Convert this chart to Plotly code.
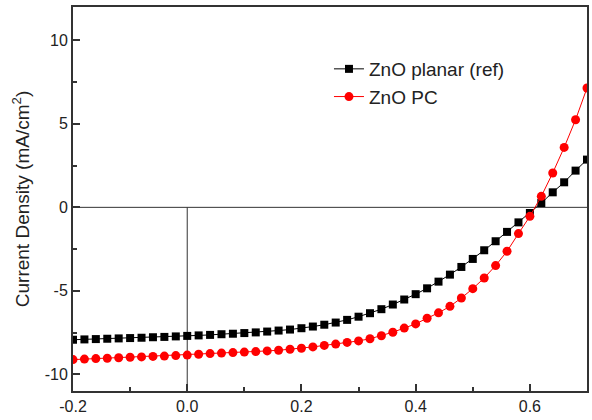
import plotly.graph_objects as go

voltage = [round(-0.2 + 0.02 * i, 2) for i in range(46)]

planar_ref = [-7.93, -7.91, -7.89, -7.87, -7.85, -7.83, -7.81, -7.78, -7.76, -7.73,
              -7.70, -7.67, -7.64, -7.60, -7.57, -7.53, -7.49, -7.44, -7.38, -7.32,
              -7.24, -7.14, -7.03, -6.90, -6.74, -6.55, -6.34, -6.10, -5.82, -5.52,
              -5.20, -4.85, -4.45, -4.03, -3.57, -3.09, -2.57, -2.03, -1.47, -0.90,
              -0.34, 0.26, 0.90, 1.50, 2.20, 2.86]

zno_pc = [-9.12, -9.09, -9.06, -9.04, -9.01, -8.98, -8.96, -8.93, -8.91, -8.88,
          -8.85, -8.80, -8.76, -8.73, -8.70, -8.67, -8.64, -8.60, -8.56, -8.50,
          -8.44, -8.36, -8.27, -8.19, -8.09, -8.00, -7.87, -7.69, -7.48, -7.23,
          -6.98, -6.64, -6.32, -5.93, -5.43, -4.87, -4.23, -3.49, -2.63, -1.57,
          -0.54, 0.66, 2.06, 3.59, 5.25, 7.15]

x_tickvals = [-0.2, 0.0, 0.2, 0.4, 0.6]
x_ticktext = ["-0.2", "0.0", "0.2", "0.4", "0.6"]
y_tickvals = [-10, -5, 0, 5, 10]
y_ticktext = ["-10", "-5", "0", "5", "10"]

series_names = ["ZnO planar (ref)", "ZnO PC"]

FONT = "Liberation Sans, Arial, sans-serif"

fig = go.Figure()
fig.add_trace(go.Scatter(
    x=voltage, y=planar_ref, name=series_names[0], mode="lines+markers",
    line=dict(color="#000000", width=1),
    marker=dict(symbol="square", size=8, color="#000000"),
))
fig.add_trace(go.Scatter(
    x=voltage, y=zno_pc, name=series_names[1], mode="lines+markers",
    line=dict(color="#ff0000", width=1),
    marker=dict(symbol="circle", size=9, color="#ff0000"),
))

# reference lines at J=0 and V=0
fig.add_shape(type="line", xref="paper", yref="y", x0=0, x1=1, y0=0, y1=0,
              line=dict(color="#333333", width=1), layer="below")
fig.add_shape(type="line", xref="x", yref="paper", x0=0, x1=0, y0=0,
              y1=11 / 23, line=dict(color="#333333", width=1), layer="below")

axis_font = dict(family=FONT, size=16, color="#222222")

fig.update_layout(
    width=592, height=420,
    margin=dict(l=73, r=3, t=7, b=29),
    paper_bgcolor="white", plot_bgcolor="white",
    font=axis_font,
    showlegend=True,
    legend=dict(
        x=0.498, y=0.888, xanchor="left", yanchor="top",
        bgcolor="rgba(0,0,0,0)", borderwidth=0,
        font=dict(family=FONT, size=19, color="#222222"),
        tracegroupgap=0,
    ),
    xaxis=dict(
        range=[-0.2, 0.7], tickvals=x_tickvals, ticktext=x_ticktext,
        showgrid=False, zeroline=False,
        showline=True, linecolor="#333333", linewidth=2, mirror=True,
        ticks="inside", ticklen=7, tickwidth=1.5, tickcolor="#333333",
        minor=dict(dtick=0.1, tick0=-0.2, ticks="inside", ticklen=4, tickwidth=1.5, tickcolor="#333333"),
        tickfont=axis_font,
    ),
    yaxis=dict(
        range=[-11, 12], tickvals=y_tickvals, ticktext=y_ticktext,
        showgrid=False, zeroline=False,
        showline=True, linecolor="#333333", linewidth=2, mirror=True,
        ticks="inside", ticklen=7, tickwidth=1.5, tickcolor="#333333",
        minor=dict(dtick=2.5, tick0=0, ticks="inside", ticklen=4, tickwidth=1.5, tickcolor="#333333"),
        tickfont=axis_font,
        title=dict(text="Current Density (mA/cm<sup>2</sup>)",
                   font=dict(family=FONT, size=19, color="#222222"),
                   standoff=10),
    ),
)

fig.write_html("out.html", config={"displayModeBar": False},
               post_script="document.body.style.margin='0';")
